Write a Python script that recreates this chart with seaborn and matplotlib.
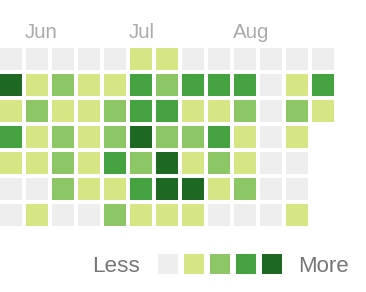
import numpy as np
import pandas as pd
import matplotlib
matplotlib.use("Agg")
import matplotlib.pyplot as plt
from matplotlib.colors import ListedColormap
import seaborn as sns

# contribution levels per weekday row (0 = none, 4 = most), NaN = no day
nan = np.nan
row_sun = [0, 0, 0, 0, 0, 1, 1, 0, 0, 0, 0, 0, 0]
row_mon = [4, 1, 2, 1, 1, 3, 2, 3, 3, 3, 0, 1, 3]
row_tue = [1, 2, 1, 1, 2, 3, 3, 1, 1, 2, 0, 2, 1]
row_wed = [3, 1, 2, 1, 2, 4, 2, 2, 3, 1, 0, 1, nan]
row_thu = [1, 1, 2, 1, 3, 2, 4, 1, 2, 1, 0, 0, nan]
row_fri = [0, 0, 2, 1, 1, 3, 4, 4, 1, 2, 0, 0, nan]
row_sat = [0, 1, 0, 0, 2, 1, 1, 1, 0, 0, 0, 1, nan]

month_labels = ["Jun", "Jul", "Aug"]
month_cols = [1, 5, 9]
legend_levels = [0, 1, 2, 3, 4]
level_colors = ["#eeeeee", "#d6e685", "#8cc665", "#44a340", "#1e6823"]

grid = pd.DataFrame([row_sun, row_mon, row_tue, row_wed, row_thu, row_fri, row_sat])
cmap = ListedColormap(level_colors)

W, H = 366, 292
fig = plt.figure(figsize=(W / 100, H / 100), dpi=100)
fig.patch.set_facecolor("white")

ax = fig.add_axes([-2 / W, 1 - 228 / H, 338 / W, 182 / H])
sns.heatmap(grid, mask=grid.isna(), cmap=cmap, vmin=-0.5, vmax=4.5,
            linewidths=4 * 0.72, linecolor="white", cbar=False, ax=ax)
ax.xaxis.tick_top()
ax.set_xticks([c + 0.03 for c in month_cols])
ax.set_xticklabels(month_labels, ha="left", fontsize=14.8, color="#aaaaaa",
                   family="Liberation Sans")
ax.tick_params(axis="x", length=0, pad=3)
ax.set_yticks([])
ax.set_xlabel("")
ax.set_ylabel("")

lax = fig.add_axes([155 / W, 1 - 277 / H, 130 / W, 26 / H])
sns.heatmap(pd.DataFrame([legend_levels]), cmap=cmap, vmin=-0.5, vmax=4.5,
            linewidths=6 * 0.72, linecolor="white", cbar=False, ax=lax)
lax.set_xticks([])
lax.set_yticks([])

fig.text(140 / W, 1 - 272 / H, "Less", ha="right", va="baseline",
         fontsize=16.2, color="#767676", family="Liberation Sans")
fig.text(298 / W, 1 - 272 / H, "More", ha="left", va="baseline",
         fontsize=16, color="#767676", family="Liberation Sans")

fig.savefig("out.png", dpi=100, facecolor="white")
